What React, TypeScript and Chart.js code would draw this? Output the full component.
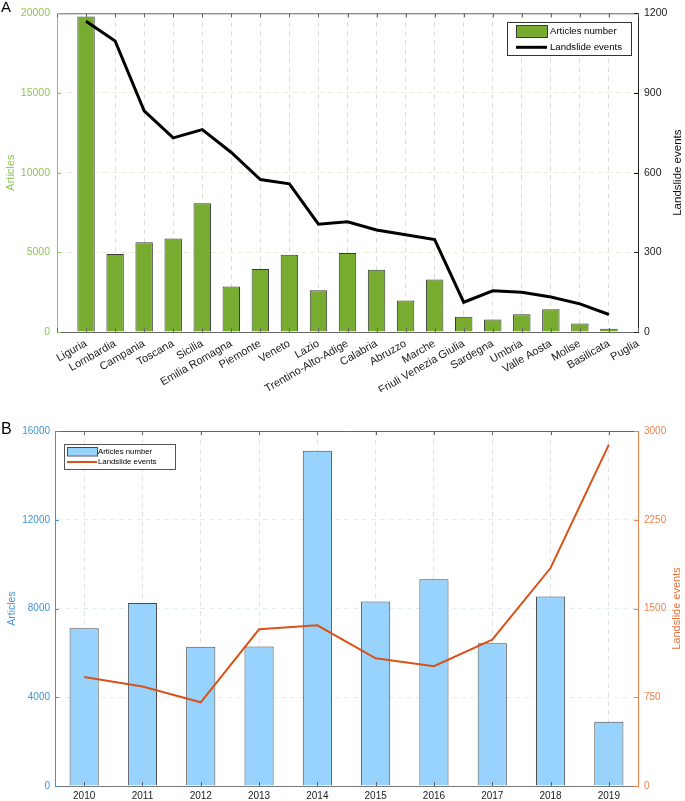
import React, { useEffect, useRef } from 'react';
import { Chart, registerables } from 'chart.js';

Chart.register(...registerables);

// ---------- DATA ----------
const regions = [
  'Liguria', 'Lombardia', 'Campania', 'Toscana', 'Sicilia', 'Emilia Romagna', 'Piemonte', 'Veneto', 'Lazio',
  'Trentino-Alto-Adige', 'Calabria', 'Abruzzo', 'Marche', 'Friuli Venezia Giulia', 'Sardegna', 'Umbria',
  'Valle Aosta', 'Molise', 'Basilicata', 'Puglia',
];
const regionArticles = [19800, 4890, 5640, 5870, 8080, 2860, 3950, 4850, 2620, 4950, 3910, 1980, 3290, 960, 780, 1120, 1430, 530, 200, 0];
const regionLandslides = [1170, 1096, 833, 731, 762, 676, 574, 558, 406, 415, 384, 366, 348, 112, 155, 150, 132, 106, 66, null];
const regionArticleTicks = [0, 5000, 10000, 15000, 20000];
const regionEventTicks = [0, 300, 600, 900, 1200];

const years = ['2010', '2011', '2012', '2013', '2014', '2015', '2016', '2017', '2018', '2019'];
const yearArticles = [7110, 8250, 6280, 6290, 15110, 8320, 9320, 6430, 8540, 2900];
const yearLandslides = [921, 840, 707, 1324, 1358, 1079, 1012, 1237, 1842, 2885];
const yearArticleTicks = [0, 4000, 8000, 12000, 16000];
const yearEventTicks = [0, 750, 1500, 2250, 3000];

const FONT = "'Liberation Sans', Arial, Helvetica, sans-serif";
Chart.defaults.font.family = FONT;

const plain = (v: any) => String(v);

// ---------- decoration plugin ----------
const decorPlugin = {
  id: 'decor',
  afterDraw(chart: any, _args: any, o: any) {
    const { ctx, chartArea: a } = chart;
    ctx.save();
    ctx.lineWidth = 1;
    ctx.strokeStyle = o.frameColor;
    ctx.beginPath();
    ctx.moveTo(a.left, a.top + 0.5);
    ctx.lineTo(a.right, a.top + 0.5);
    ctx.stroke();
    const xs = chart.scales.x;
    ctx.strokeStyle = o.frameColor;
    xs.ticks.forEach((_t: any, i: number) => {
      const px = Math.round(xs.getPixelForTick(i)) + 0.5;
      ctx.beginPath();
      ctx.moveTo(px, a.top);
      ctx.lineTo(px, a.top + 4);
      ctx.moveTo(px, a.bottom);
      ctx.lineTo(px, a.bottom - 4);
      ctx.stroke();
    });
    const ys = chart.scales.y;
    ctx.strokeStyle = o.leftColor;
    ys.ticks.forEach((_t: any, i: number) => {
      const py = Math.round(ys.getPixelForTick(i)) + 0.5;
      ctx.beginPath();
      ctx.moveTo(a.left, py);
      ctx.lineTo(a.left + 4, py);
      ctx.stroke();
    });
    const y1 = chart.scales.y1;
    ctx.strokeStyle = o.rightColor;
    y1.ticks.forEach((_t: any, i: number) => {
      const py = Math.round(y1.getPixelForTick(i)) + 0.5;
      ctx.beginPath();
      ctx.moveTo(a.right, py);
      ctx.lineTo(a.right - 4, py);
      ctx.stroke();
    });
    ctx.save();
    ctx.translate(o.rightTitleX, (a.top + a.bottom) / 2);
    ctx.rotate(-Math.PI / 2);
    ctx.fillStyle = o.rightTitleColor;
    ctx.font = `${o.rightTitleSize}px ${FONT}`;
    ctx.textAlign = 'center';
    ctx.textBaseline = 'middle';
    ctx.fillText(o.rightTitle, 0, 0);
    ctx.restore();
    const L = o.legend;
    const lx = L.fromRight ? a.right - L.dx : a.left + L.dx;
    const ly = a.top + L.dy;
    ctx.fillStyle = '#ffffff';
    ctx.fillRect(lx, ly, L.w, L.h);
    ctx.strokeStyle = L.border;
    ctx.lineWidth = 1;
    ctx.strokeRect(Math.round(lx) + 0.5, Math.round(ly) + 0.5, L.w, L.h);
    const bar = chart.data.datasets.find((d: any) => d.type === 'bar');
    const line = chart.data.datasets.find((d: any) => d.type === 'line');
    ctx.fillStyle = bar.backgroundColor;
    ctx.fillRect(lx + L.px, ly + L.py, L.pw, L.ph);
    ctx.strokeStyle = bar.borderColor;
    ctx.strokeRect(Math.round(lx + L.px) + 0.5, Math.round(ly + L.py) + 0.5, L.pw, L.ph);
    ctx.strokeStyle = line.borderColor;
    ctx.lineWidth = line.borderWidth;
    ctx.beginPath();
    ctx.moveTo(lx + L.px, ly + L.row2);
    ctx.lineTo(lx + L.px + L.pw, ly + L.row2);
    ctx.stroke();
    ctx.fillStyle = '#000';
    ctx.font = `${L.size}px ${FONT}`;
    ctx.textAlign = 'left';
    ctx.textBaseline = 'middle';
    ctx.fillText(bar.label, lx + L.tx, ly + L.row1);
    ctx.fillText(line.label, lx + L.tx, ly + L.row2);
    ctx.restore();
  },
};

const fix = (w?: number, h?: number) => (scale: any) => {
  if (w !== undefined) scale.width = w;
  if (h !== undefined) scale.height = h;
};

function makeConfigA(): any {
  const step = regionArticleTicks[1] - regionArticleTicks[0];
  const step1 = regionEventTicks[1] - regionEventTicks[0];
  const green = '#8fc655';
  return {
    type: 'bar',
    data: {
      labels: ['', ...regions],
      datasets: [
        {
          type: 'bar', label: 'Articles number', data: [null, ...regionArticles], yAxisID: 'y',
          backgroundColor: '#77ac30', borderColor: '#3a3a3a', borderWidth: 1, borderSkipped: 'bottom',
          barPercentage: 0.6, categoryPercentage: 1, order: 1,
        },
        {
          type: 'line', label: 'Landslide events', data: [null, ...regionLandslides], yAxisID: 'y1',
          borderColor: '#000000', borderWidth: 3, pointRadius: 0, tension: 0, order: 0,
        },
      ],
    },
    options: {
      animation: false, responsive: false, events: [],
      layout: { padding: { top: 6, left: 0, right: 0, bottom: 0 } },
      plugins: {
        legend: { display: false }, tooltip: { enabled: false },
        decor: {
          frameColor: '#666', leftColor: green, rightColor: '#222',
          rightTitle: 'Landslide events', rightTitleColor: '#111', rightTitleSize: 11.5, rightTitleX: 678,
          legend: { fromRight: true, dx: 131, dy: 9, w: 124, h: 33, px: 9, py: 3, pw: 31, ph: 12, tx: 43, row1: 9.5, row2: 25, size: 9.6, border: '#333' },
        },
      },
      scales: {
        x: {
          type: 'category', offset: false, afterFit: fix(undefined, 60),
          grid: { offset: false, color: '#dddddd', drawTicks: false },
          border: { color: '#666', dash: [5, 4] },
          ticks: { autoSkip: false, minRotation: 30, maxRotation: 30, padding: 5, color: '#222', font: { size: 11 } },
        },
        y: {
          position: 'left', min: regionArticleTicks[0], max: regionArticleTicks[regionArticleTicks.length - 1],
          afterFit: fix(57),
          ticks: { stepSize: step, color: green, padding: 7, font: { size: 10.5 }, callback: plain },
          grid: { color: '#eeeedc', drawTicks: false },
          border: { color: green, dash: [5, 4] },
          title: { display: true, text: 'Articles', color: green, font: { size: 11 }, padding: { top: 4, bottom: 4 } },
        },
        y1: {
          position: 'right', min: regionEventTicks[0], max: regionEventTicks[regionEventTicks.length - 1],
          afterFit: fix(47),
          ticks: { stepSize: step1, color: '#222', padding: 6, font: { size: 10.5 }, callback: plain },
          grid: { display: false, drawTicks: false },
          border: { color: '#222' },
        },
      },
    },
    plugins: [decorPlugin],
  };
}

function makeConfigB(): any {
  const step = yearArticleTicks[1] - yearArticleTicks[0];
  const step1 = yearEventTicks[1] - yearEventTicks[0];
  const blue = '#3c94dc';
  const orange = '#f0824e';
  return {
    type: 'bar',
    data: {
      labels: years,
      datasets: [
        {
          type: 'bar', label: 'Articles number', data: yearArticles, yAxisID: 'y',
          backgroundColor: '#97d3fc', borderColor: '#4a4a4a', borderWidth: 1, borderSkipped: 'bottom',
          barPercentage: 0.5, categoryPercentage: 1, order: 1,
        },
        {
          type: 'line', label: 'Landslide events', data: yearLandslides, yAxisID: 'y1',
          borderColor: '#d95319', borderWidth: 2, pointRadius: 0, tension: 0, order: 0,
        },
      ],
    },
    options: {
      animation: false, responsive: false, events: [],
      layout: { padding: { top: 39, left: 0, right: 0, bottom: 0 } },
      plugins: {
        legend: { display: false }, tooltip: { enabled: false },
        decor: {
          frameColor: '#666', leftColor: blue, rightColor: orange,
          rightTitle: 'Landslide events', rightTitleColor: '#e8733d', rightTitleSize: 11, rightTitleX: 677,
          legend: { fromRight: false, dx: 9, dy: 13, w: 111, h: 25, px: 3, py: 3, pw: 30, ph: 8.5, tx: 34, row1: 7.5, row2: 18, size: 7.8, border: '#555' },
        },
      },
      scales: {
        x: {
          type: 'category', offset: true, afterFit: fix(undefined, 15),
          grid: { offset: false, color: '#e2e2e2', drawTicks: false },
          border: { color: '#777', dash: [5, 4] },
          ticks: { autoSkip: false, maxRotation: 0, padding: 4, color: '#222', font: { size: 10 } },
        },
        y: {
          position: 'left', min: yearArticleTicks[0], max: yearArticleTicks[yearArticleTicks.length - 1],
          afterFit: fix(55),
          ticks: { stepSize: step, color: blue, padding: 5, font: { size: 10 }, callback: plain },
          grid: { color: '#e4eef6', drawTicks: false },
          border: { color: blue, dash: [5, 4] },
          title: { display: true, text: 'Articles', color: blue, font: { size: 10.5 }, padding: { top: 6, bottom: 4 } },
        },
        y1: {
          position: 'right', min: yearEventTicks[0], max: yearEventTicks[yearEventTicks.length - 1],
          afterFit: fix(47),
          ticks: { stepSize: step1, color: orange, padding: 6, font: { size: 10 }, callback: plain },
          grid: { display: false, drawTicks: false },
          border: { color: orange },
        },
      },
    },
    plugins: [decorPlugin],
  };
}

function ChartCanvas({ make, width, height, top }: { make: () => any; width: number; height: number; top: number }) {
  const ref = useRef<HTMLCanvasElement | null>(null);
  useEffect(() => {
    if (!ref.current) return;
    const chart = new Chart(ref.current, make());
    return () => chart.destroy();
  }, [make]);
  return (
    <canvas
      ref={ref}
      width={width}
      height={height}
      style={{ position: 'absolute', left: 0, top, width, height, display: 'block' }}
    />
  );
}

export default function App() {
  return (
    <div style={{ position: 'absolute', left: 0, top: 0, width: 685, height: 801, background: '#fff', overflow: 'hidden' }}>
      <ChartCanvas make={makeConfigA} width={685} height={392} top={0} />
      <ChartCanvas make={makeConfigB} width={685} height={409} top={392} />
      <div style={{ position: 'absolute', left: 1, top: 0, fontFamily: FONT, fontSize: 15, lineHeight: '14px', color: '#000' }}>A</div>
      <div style={{ position: 'absolute', left: 1, top: 421, fontFamily: FONT, fontSize: 16, lineHeight: '16px', color: '#000' }}>B</div>
    </div>
  );
}
